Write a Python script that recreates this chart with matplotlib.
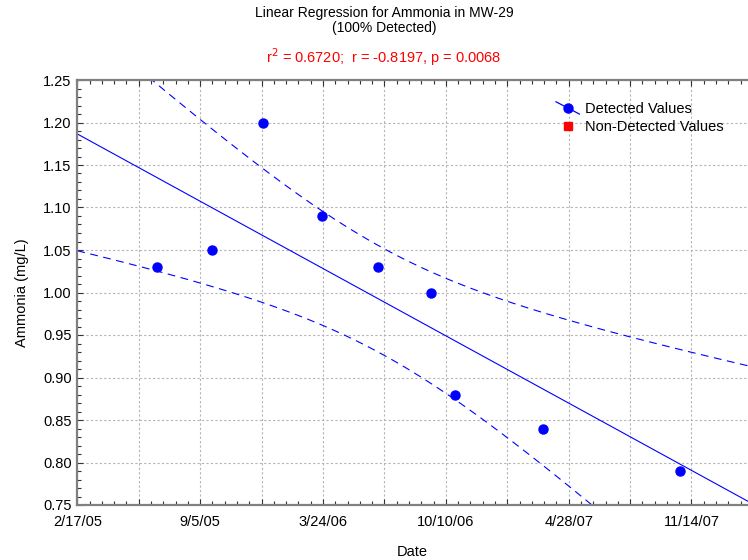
import numpy as np
import pandas as pd
import matplotlib
matplotlib.use('Agg')
import matplotlib.pyplot as plt
import matplotlib.dates as mdates
from matplotlib.lines import Line2D
from matplotlib.legend_handler import HandlerBase
from matplotlib.ticker import MultipleLocator, FixedLocator, FuncFormatter

plt.rcParams['font.family'] = ['Liberation Sans', 'DejaVu Sans']

# sample data
sampleDates = ['2005-06-26', '2005-09-25', '2005-12-16', '2006-03-22', '2006-06-21',
               '2006-09-16', '2006-10-25', '2007-03-18', '2007-10-26']
ammonia = [1.03, 1.05, 1.20, 1.09, 1.03, 1.00, 0.88, 0.84, 0.79]

startDate = '2005-02-17'
endDate = '2008-02-14'
tickStepDays = 100      # gridline spacing, every 2nd one labelled
tStat = 2.365           # t(0.975, df=7)

titleText = 'Linear Regression for Ammonia in MW-29\n(100% Detected)'
statText = r'r$^2$ = 0.6720;  r = -0.8197, p = 0.0068'

# %%
x = mdates.date2num(pd.to_datetime(sampleDates))
y = np.array(ammonia)
x0 = mdates.date2num(pd.Timestamp(startDate))
x1 = mdates.date2num(pd.Timestamp(endDate))

# least squares fit + 95% confidence band of the mean
n = len(x)
mx, my = x.mean(), y.mean()
Sxx = np.sum((x - mx) ** 2)
slope = np.sum((x - mx) * (y - my)) / Sxx
icpt = my - slope * mx
resid = y - (icpt + slope * x)
s = np.sqrt(np.sum(resid ** 2) / (n - 2))

xx = np.linspace(x0, x1, 400)
fit = icpt + slope * xx
half = tStat * s * np.sqrt(1 / n + (xx - mx) ** 2 / Sxx)

# %%
W, H = 748, 560
fig = plt.figure(figsize=(W / 100, H / 100), dpi=100)
ax = fig.add_axes([77.3 / W, 1 - 505 / H, 1 - 77.3 / W, (505 - 80) / H])

blue = '#0000ff'
ax.plot(xx, fit, color=blue, lw=0.8)
ax.plot(xx, fit + half, color=blue, lw=0.8, dashes=(7, 5))
ax.plot(xx, fit - half, color=blue, lw=0.8, dashes=(7, 5))
ax.plot(x, y, 'o', color=blue, ms=6.5, zorder=5)

ax.set_xlim(x0, x1)
ax.set_ylim(0.75, 1.25)

# axes decoration
majors = x0 + np.arange(0, 1201, tickStepDays)
ax.xaxis.set_major_locator(FixedLocator(majors))
ax.xaxis.set_minor_locator(FixedLocator(x0 + np.arange(0, 1201, 20)))


def dateLabel(v, pos):
    k = int(round((v - x0) / tickStepDays))
    if k % 2:
        return ''
    d = mdates.num2date(v)
    return f'{d.month}/{d.day}/{d.year % 100:02d}'


ax.xaxis.set_major_formatter(FuncFormatter(dateLabel))
ax.yaxis.set_major_locator(MultipleLocator(0.05))
ax.yaxis.set_minor_locator(MultipleLocator(0.01))
ax.yaxis.set_major_formatter(FuncFormatter(lambda v, p: f'{v:.2f}'))

ax.grid(True, which='major', color='#b4b4b4', lw=0.8, dashes=(2, 2))
ax.tick_params(which='both', direction='in', top=True, right=False, color='#333333',
               labelsize=10.5)
ax.tick_params(which='major', length=4, width=0.8)
ax.tick_params(which='minor', length=3, width=0.8)
ax.tick_params(axis='x', which='major', pad=7)
ax.tick_params(axis='y', which='major', pad=4)
for side in ['left', 'bottom', 'top']:
    ax.spines[side].set_color('#808080')
    ax.spines[side].set_linewidth(1.6)
ax.spines['right'].set_visible(False)

ax.set_xlabel('Date', fontsize=10.5, labelpad=12)
ax.set_ylabel('Ammonia (mg/L)', fontsize=10.5, labelpad=10)

fig.text(384 / W, 1 - 6 / H, titleText, ha='center', va='top', fontsize=10, linespacing=1.1)
fig.text(384 / W, 1 - 57 / H, statText, ha='center', va='center', fontsize=10.5, color='red')


# legend: diagonal line through the marker for detected values
class DiagHandler(HandlerBase):
    def create_artists(self, legend, orig, xd, yd, width, height, fontsize, trans):
        ln = Line2D([-xd, -xd + width], [-yd + height * 1.1, -yd - height * 0.1],
                    color=blue, lw=0.9, transform=trans)
        mk = Line2D([-xd + width / 2], [-yd + height / 2], marker='o', color=blue,
                    ms=6.5, ls='none', transform=trans)
        return [ln, mk]


detHandle = Line2D([], [], color=blue, marker='o')
ndHandle = Line2D([], [], color='red', marker='s', ms=6, ls='none')
fig.legend([detHandle, ndHandle], ['Detected Values', 'Non-Detected Values'],
           handler_map={detHandle: DiagHandler()}, loc='upper left',
           bbox_to_anchor=(556 / W, 1 - 102 / H), frameon=False, fontsize=10.5,
           borderpad=0, borderaxespad=0, handlelength=1.6, handletextpad=0.4,
           labelspacing=0.25)

fig.savefig('out.png', dpi=100)
